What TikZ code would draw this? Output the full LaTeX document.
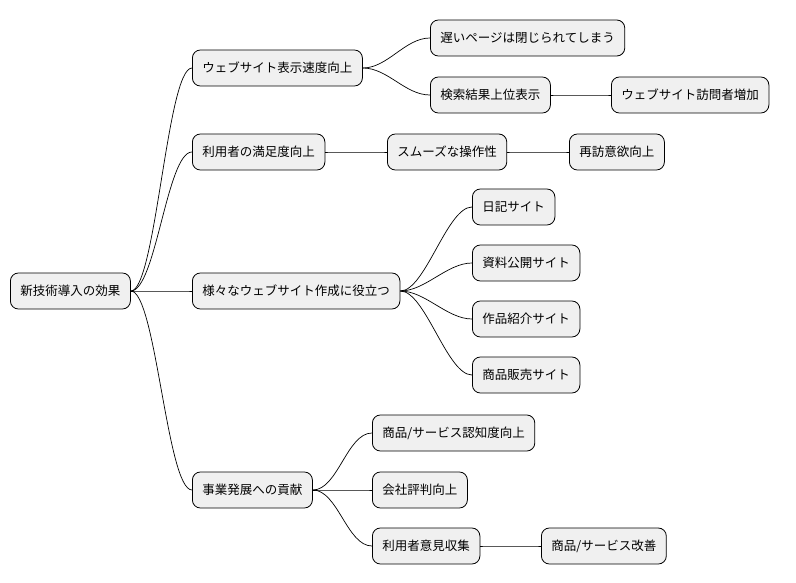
\documentclass[tikz,border=0pt]{standalone}
\usepackage{fontspec}
\setmainfont{Noto Sans CJK JP}
\begin{document}
\begin{tikzpicture}[x=1pt,y=-1pt,
  box/.style={draw=black,fill=black!6,rounded corners=8pt,minimum height=36pt,inner xsep=10pt,anchor=west,font=\fontsize{12.5}{14}\selectfont,line width=0.8pt},
  edge/.style={draw=black,line width=0.7pt}]
\useasboundingbox (0,0) rectangle (796,583);
\node[box] (r) at (10,291) {新技術導入の効果};
\node[box] (a) at (192,68) {ウェブサイト表示速度向上};
\node[box] (b) at (192,152) {利用者の満足度向上};
\node[box] (c) at (192,291) {様々なウェブサイト作成に役立つ};
\node[box] (d) at (192,490) {事業発展への貢献};
\node[box] (a1) at (430,38) {遅いページは閉じられてしまう};
\node[box] (a2) at (430,95) {検索結果上位表示};
\node[box] (a3) at (611,95) {ウェブサイト訪問者増加};
\node[box] (b1) at (387,152) {スムーズな操作性};
\node[box] (b2) at (569,152) {再訪意欲向上};
\node[box] (c1) at (472,207) {日記サイト};
\node[box] (c2) at (472,263) {資料公開サイト};
\node[box] (c3) at (472,319) {作品紹介サイト};
\node[box] (c4) at (472,375) {商品販売サイト};
\node[box] (d1) at (372,433) {商品/サービス認知度向上};
\node[box] (d2) at (372,490) {会社評判向上};
\node[box] (d3) at (372,546) {利用者意見収集};
\node[box] (d4) at (541,546) {商品/サービス改善};
\foreach \p/\c in {r/a,r/b,r/c,r/d,a/a1,a/a2,a2/a3,b/b1,b1/b2,c/c1,c/c2,c/c3,c/c4,d/d1,d/d2,d/d3,d3/d4}
  \draw[edge] (\p.east) .. controls ([xshift=25pt]\p.east) and ([xshift=-25pt]\c.west) .. (\c.west);
\end{tikzpicture}
\end{document}
